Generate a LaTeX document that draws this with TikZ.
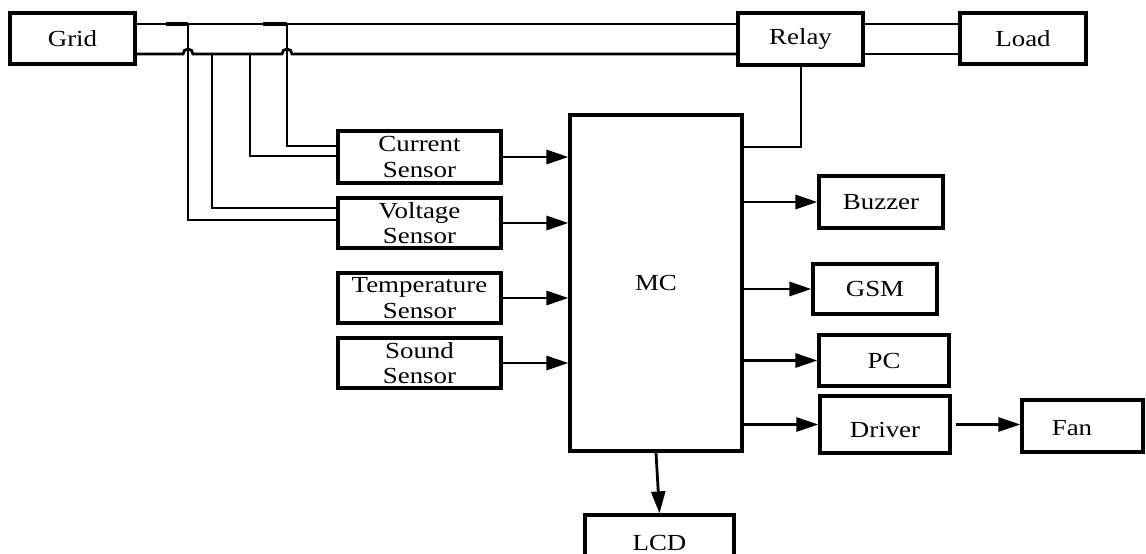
\documentclass[tikz,border=0pt]{standalone}
\usepackage{fontspec}
\setmainfont{Liberation Serif}[FakeStretch=1.17]
\usetikzlibrary{arrows.meta}
\begin{document}
\begin{tikzpicture}[x=1pt,y=-1pt,
  box/.style={draw,line width=3.2pt,inner sep=0pt,align=center,
    font=\fontsize{23}{25.5}\selectfont},
  wire/.style={line width=2.8pt,line join=miter},
  arr/.style={wire,-{Triangle[length=22pt,width=14pt]}},
  lbl/.style={inner sep=0pt,font=\fontsize{23}{25.5}\selectfont}]
\clip (0,0) rectangle (1146,554);
\fill[white] (0,0) rectangle (1146,554);
% boxes
\node[box,minimum width=125,minimum height=51] (grid) at (72.5,38.5) {Grid};
\node[box,minimum width=125,minimum height=52] (relay) at (800.5,39) {Relay};
\node[box,minimum width=126,minimum height=51] (load) at (1023,38.5) {Load};
\node[box,minimum width=163,minimum height=52] (cur) at (419.5,157) {Current\\Sensor};
\node[box,minimum width=163,minimum height=50] (volt) at (419.5,223) {Voltage\\Sensor};
\node[box,minimum width=163,minimum height=50] (temp) at (419.5,298) {Temperature\\Sensor};
\node[box,minimum width=163,minimum height=50] (snd) at (419.5,363) {Sound\\Sensor};
\node[box,minimum width=172,minimum height=336] (mc) at (656,283) {MC};
\node[box,minimum width=124,minimum height=52] (buz) at (881,202) {Buzzer};
\node[box,minimum width=124,minimum height=50] (gsm) at (875,289) {GSM};
\node[box,minimum width=130,minimum height=51] (pc) at (884,360.5) {PC};
\node[box,minimum width=130,minimum height=57] (drv) at (885,424.5) {\rule{0pt}{27pt}Driver};
\node[box,minimum width=121,minimum height=52] (fan) at (1082.5,426) {};
\node[lbl] (fantext) at (1072,428) {Fan};
\node[box,minimum width=149,minimum height=55] (lcd) at (659.5,542.5) {LCD};
% wire levels
\coordinate (wtop) at (0,24);
\coordinate (wbot) at (0,54);
% power lines
\draw[wire] (grid.east |- wtop) -- (relay.west |- wtop);
\draw[wire] (grid.east |- wbot) -- (183,54) arc[start angle=180,end angle=360,radius=5]
  -- (282,54) arc[start angle=180,end angle=360,radius=5] -- (relay.west |- wbot);
\draw[wire] (relay.east |- wtop) -- (load.west |- wtop);
\draw[wire] (relay.east |- wbot) -- (load.west |- wbot);
\draw[line width=3.8pt] (166,24) -- (188,24);
\draw[line width=3.8pt] (263,24) -- (287,24);
% sensor taps
\coordinate (c1) at (287,146);
\coordinate (c2) at (250,156);
\coordinate (v1) at (212,208);
\coordinate (v2) at (188,220);
\draw[wire] (c1 |- wtop) -- (c1) -- (cur.west |- c1);
\draw[wire] (c2 |- wbot) -- (c2) -- (cur.west |- c2);
\draw[wire] (v1 |- wbot) -- (v1) -- (volt.west |- v1);
\draw[wire] (v2 |- wtop) -- (v2) -- (volt.west |- v2);
% sensors to MC
\draw[arr] (cur.east) -- (mc.west |- cur.east);
\draw[arr] (volt.east) -- (mc.west |- volt.east);
\draw[arr] (temp.east) -- (mc.west |- temp.east);
\draw[arr] (snd.east) -- (mc.west |- snd.east);
% MC to relay
\coordinate (rl) at (801,147);
\draw[wire] (mc.east |- rl) -- (rl) -- (relay.south -| rl);
% outputs
\draw[arr] (mc.east |- buz.west) -- (buz.west);
\draw[arr] (mc.east |- gsm.west) -- (gsm.west);
\draw[arr] (mc.east |- pc.west) -- (pc.west);
\draw[arr] (mc.east |- drv.west) -- (drv.west);
\draw[arr] ([xshift=4pt]drv.east) -- (fan.west |- drv.east);
\draw[arr] (mc.south) -- (lcd.north);
\end{tikzpicture}
\end{document}
